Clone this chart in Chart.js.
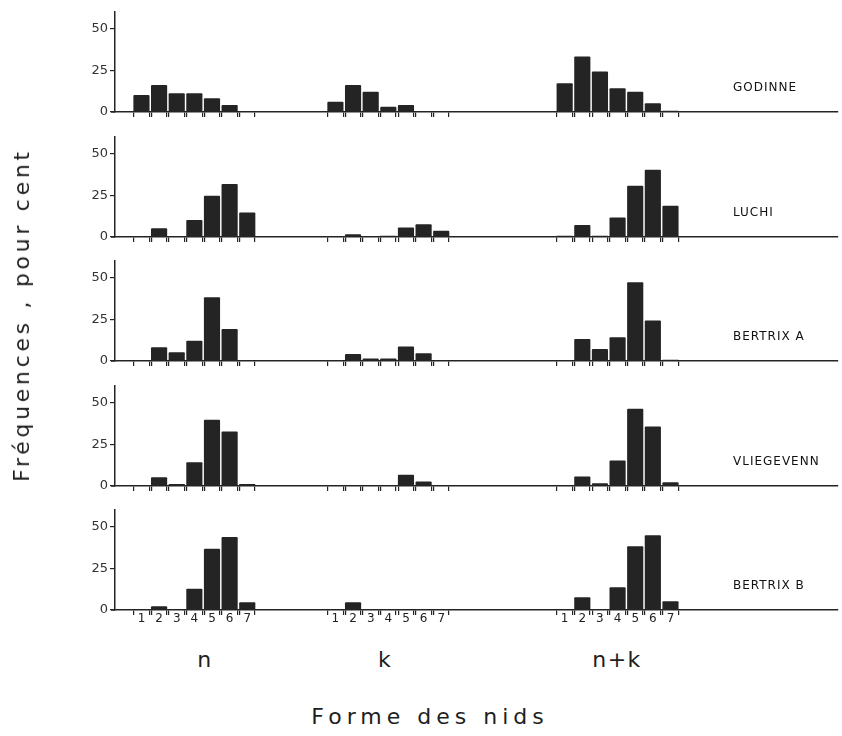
<!DOCTYPE html>
<html>
<head>
<meta charset="utf-8">
<script src="https://cdn.jsdelivr.net/npm/chart.js@4.4.1/dist/chart.umd.min.js"></script>
<style>
  body { margin: 0; width: 842px; height: 736px; position: relative; overflow: hidden; background: #fff; font-family: "DejaVu Sans", sans-serif; color: #1e1e1e; }
  canvas { position: absolute; left: 0; }
  .lbl { position: absolute; white-space: nowrap; line-height: 1; }
  .site { font-size: 12px; letter-spacing: 1px; left: 733px; color: #111; }
  .grp { font-size: 22px; letter-spacing: 1.5px; transform: translateX(-50%); top: 649px; }
</style>
</head>
<body>
<script>
// nest forms, groups and sites
const forms = ['1', '2', '3', '4', '5', '6', '7'];
const groups = ['n', 'k', 'n+k'];
const sites = ['GODINNE', 'LUCHI', 'BERTRIX A', 'VLIEGEVENN', 'BERTRIX B'];
const yTicks = [0, 25, 50];

// frequencies in percent, forms 1..7
const godinneN  = [10, 16, 11, 11, 8, 4, 0];
const godinneK  = [6, 16, 12, 3, 4, 0, 0];
const godinneNK = [17, 33, 24, 14, 12, 5, 0.5];

const luchiN  = [0, 5, 0, 10, 24.5, 31.5, 14.5];
const luchiK  = [0, 1.5, 0, 0.5, 5.5, 7.5, 3.5];
const luchiNK = [0.5, 7, 0.5, 11.5, 30.5, 40, 18.5];

const bertrixAN  = [0, 8, 5, 12, 38, 19, 0];
const bertrixAK  = [0, 4, 1.3, 1.3, 8.5, 4.5, 0];
const bertrixANK = [0, 13, 7, 14, 47, 24, 0.5];

const vliegN  = [0, 5, 1, 14, 39.5, 32.5, 1];
const vliegK  = [0, 0, 0, 0, 6.5, 2.5, 0];
const vliegNK = [0, 5.5, 1.5, 15, 46, 35.5, 2];

const bertrixBN  = [0, 2, 0, 12.5, 36.5, 43.5, 4.5];
const bertrixBK  = [0, 4.5, 0, 0, 0, 0, 0];
const bertrixBNK = [0, 7.5, 0, 13.5, 38, 44.5, 5];

const siteSeries = [
  [godinneN, godinneK, godinneNK],
  [luchiN, luchiK, luchiNK],
  [bertrixAN, bertrixAK, bertrixANK],
  [vliegN, vliegK, vliegNK],
  [bertrixBN, bertrixBK, bertrixBNK]
];

// layout
const groupStart = [0, 11, 24];
const baselines = [112, 237, 361, 486, 610];
const edge = 0.44;
const ink = '#242424';
const font = 'DejaVu Sans';

// x ticks: bar edges (marks) and bar centres (labels)
const labelAt = {};
const xTickVals = [];
groupStart.forEach(s => forms.forEach((f, i) => {
  labelAt[s + i] = f;
  xTickVals.push(s + i - edge, s + i, s + i + edge);
}));

const stubs = {
  id: 'stubs',
  afterDraw(chart) {
    const a = chart.chartArea, c = chart.ctx;
    c.save();
    c.strokeStyle = ink;
    c.lineWidth = 1.5;
    c.beginPath();
    c.moveTo(a.left - 4, a.bottom);
    c.lineTo(a.left, a.bottom);
    c.stroke();
    c.restore();
  }
};

siteSeries.forEach((series, p) => {
  const last = p === sites.length - 1;
  const canvas = document.createElement('canvas');
  canvas.width = 842;
  canvas.height = 130;
  canvas.style.top = (baselines[p] - 110) + 'px';
  document.body.appendChild(canvas);

  const points = [];
  series.forEach((vals, g) => vals.forEach((v, i) => points.push({ x: groupStart[g] + i, y: v })));

  new Chart(canvas, {
    type: 'bar',
    data: {
      datasets: [{
        label: sites[p],
        data: points,
        backgroundColor: ink,
        borderWidth: 0,
        borderRadius: 1,
        barThickness: 15.5
      }]
    },
    options: {
      responsive: false,
      animation: false,
      devicePixelRatio: 1,
      layout: { padding: { top: 3, right: 4, left: 0, bottom: 0 } },
      plugins: { legend: { display: false }, tooltip: { enabled: false } },
      scales: {
        x: {
          type: 'linear',
          min: -1.5,
          max: 39.5,
          offset: false,
          afterBuildTicks: s => { s.ticks = xTickVals.map(v => ({ value: v })); },
          afterFit: s => { s.height = 20; },
          grid: {
            offset: false,
            drawOnChartArea: false,
            tickLength: 5,
            lineWidth: 1.2,
            tickColor: ctx => (ctx.tick && Number.isInteger(ctx.tick.value)) ? 'rgba(0,0,0,0)' : ink
          },
          border: { color: ink, width: 1.5 },
          ticks: {
            autoSkip: false,
            maxRotation: 0,
            minRotation: 0,
            padding: -3,
            color: '#222',
            font: { family: font, size: 12 },
            callback: v => (last && labelAt[v]) ? labelAt[v] : ''
          }
        },
        y: {
          min: 0,
          max: 60,
          afterBuildTicks: s => { s.ticks = yTicks.map(v => ({ value: v })); },
          afterFit: s => { s.width = 115; },
          grid: { drawOnChartArea: false, tickLength: 5, lineWidth: 1.2, tickColor: ink },
          border: { color: ink, width: 1.5 },
          ticks: { padding: 2, color: '#333', font: { family: font, size: 13 } }
        }
      }
    },
    plugins: [stubs]
  });

  const name = document.createElement('div');
  name.className = 'lbl site';
  name.style.top = (baselines[p] - 31) + 'px';
  name.textContent = sites[p];
  document.body.appendChild(name);
});

// group names under the bottom panel
const groupX = [205, 385, 617];
groups.forEach((g, i) => {
  const d = document.createElement('div');
  d.className = 'lbl grp';
  d.style.left = groupX[i] + 'px';
  d.textContent = g;
  document.body.appendChild(d);
});

const xTitle = document.createElement('div');
xTitle.className = 'lbl';
xTitle.style.cssText = 'left:430px;top:706px;font-size:22px;letter-spacing:5px;transform:translateX(-50%)';
xTitle.textContent = 'Forme des nids';
document.body.appendChild(xTitle);

const yTitle = document.createElement('div');
yTitle.className = 'lbl';
yTitle.style.cssText = 'left:22px;top:315px;font-size:22px;letter-spacing:3.7px;transform:translate(-50%,-50%) rotate(-90deg)';
yTitle.textContent = 'Fréquences , pour cent';
document.body.appendChild(yTitle);
</script>
</body>
</html>
